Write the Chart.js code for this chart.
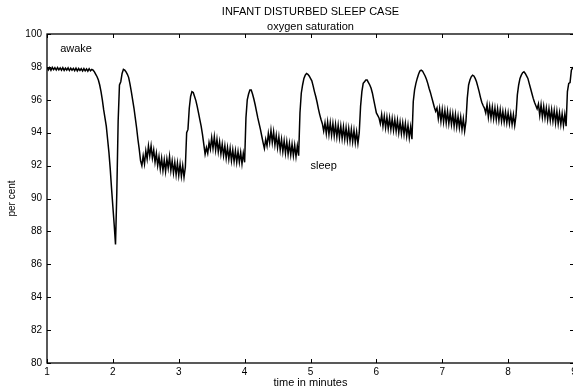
<!DOCTYPE html>
<html lang="en">
<head>
<meta charset="UTF-8">
<title>Infant disturbed sleep case</title>
<script src="https://cdn.jsdelivr.net/npm/chart.js"></script>
<style>
  html, body { margin: 0; padding: 0; background: #fff; overflow: hidden; }
</style>
</head>
<body>
<canvas id="sat" width="600" height="390"></canvas>
<script>
// oxygen saturation (per cent), one reading every 0.02 min from minute 1 to minute 9
const startMin = 1;
const stepMin = 0.02;
const saturation = [
  97.98, 97.82, 97.96, 97.80, 97.97, 97.83, 97.95, 97.81, 97.96, 97.82,
  97.94, 97.80, 97.95, 97.79, 97.93, 97.81, 97.94, 97.78, 97.92, 97.80,
  97.91, 97.77, 97.92, 97.76, 97.90, 97.78, 97.89, 97.75, 97.90, 97.76,
  97.88, 97.74, 97.89, 97.76, 97.84, 97.80, 97.70, 97.55, 97.40, 97.20,
  96.9, 96.5, 96.0, 95.4, 94.9, 94.4, 93.6, 92.8, 91.8, 90.6,
  89.5, 88.4, 87.2, 90.4, 94.7, 96.9, 97.1, 97.6, 97.85, 97.8,
  97.7, 97.55, 97.35, 96.95, 96.5, 96.0, 95.5, 94.9, 94.3, 93.6,
  93.0, 92.3, 92.0, 92.6, 92.1, 92.9, 92.4, 93.2, 92.6, 93.2,
  92.45, 92.95, 92.2, 92.75, 92.0, 92.55, 91.8, 92.45, 91.7, 92.35,
  91.65, 92.4, 91.85, 92.55, 91.7, 92.3, 91.55, 92.2, 91.45, 92.15,
  91.4, 92.1, 91.35, 92.0, 91.3, 91.9, 94.0, 94.2, 95.5, 96.2,
  96.5, 96.45, 96.2, 95.95, 95.6, 95.2, 94.8, 94.4, 93.9, 93.3,
  92.7, 93.1, 92.75, 93.4, 93.0, 93.7, 93.05, 93.75, 92.95, 93.6,
  92.85, 93.45, 92.7, 93.3, 92.6, 93.2, 92.45, 93.1, 92.4, 93.05,
  92.3, 92.95, 92.25, 92.9, 92.2, 92.85, 92.2, 92.8, 92.1, 92.75,
  92.2, 94.9, 96.0, 96.35, 96.6, 96.6, 96.35, 96.05, 95.7, 95.3,
  94.9, 94.55, 94.2, 93.8, 93.4, 93.05, 93.6, 93.2, 93.95, 93.4,
  94.15, 93.4, 94.05, 93.25, 93.85, 93.1, 93.75, 92.95, 93.6, 92.85,
  93.5, 92.75, 93.45, 92.7, 93.35, 92.65, 93.3, 92.6, 93.25, 92.55,
  93.2, 92.6, 95.2, 96.4, 96.9, 97.3, 97.5, 97.6, 97.55, 97.45,
  97.3, 97.15, 96.85, 96.5, 96.2, 95.85, 95.45, 95.1, 94.8, 94.55,
  94.1, 94.6, 93.95, 94.65, 93.9, 94.6, 93.85, 94.55, 93.8, 94.5,
  93.75, 94.45, 93.7, 94.4, 93.65, 94.35, 93.6, 94.3, 93.55, 94.25,
  93.5, 94.2, 93.45, 94.15, 93.4, 94.05, 93.35, 94.0, 95.6, 96.5,
  97.0, 97.1, 97.2, 97.2, 97.05, 96.9, 96.7, 96.4, 96.0, 95.6,
  95.2, 95.05, 94.9, 94.55, 95.1, 94.4, 95.0, 94.3, 94.95, 94.25,
  94.9, 94.2, 94.85, 94.15, 94.8, 94.1, 94.75, 94.0, 94.65, 93.95,
  94.6, 93.9, 94.55, 93.8, 94.45, 93.7, 94.35, 93.6, 95.9, 96.6,
  97.0, 97.3, 97.55, 97.75, 97.8, 97.75, 97.6, 97.45, 97.25, 97.0,
  96.7, 96.45, 96.15, 95.85, 95.55, 95.3, 95.5, 94.85, 95.45, 94.7,
  95.4, 94.65, 95.35, 94.6, 95.3, 94.55, 95.2, 94.5, 95.15, 94.4,
  95.1, 94.35, 95.0, 94.3, 94.95, 94.2, 94.85, 94.1, 94.7, 96.1,
  96.9, 97.2, 97.4, 97.5, 97.45, 97.3, 97.1, 96.8, 96.5, 96.15,
  95.85, 95.65, 95.5, 95.2, 95.7, 94.95, 95.6, 94.9, 95.55, 94.85,
  95.5, 94.8, 95.45, 94.75, 95.4, 94.7, 95.3, 94.65, 95.25, 94.6,
  95.2, 94.55, 95.15, 94.5, 95.1, 94.45, 95.05, 96.3, 96.9, 97.3,
  97.5, 97.65, 97.7, 97.6, 97.45, 97.3, 97.0, 96.7, 96.4, 96.1,
  95.85, 95.65, 95.45, 95.75, 95.05, 95.7, 94.95, 95.6, 94.9, 95.5,
  94.8, 95.45, 94.75, 95.4, 94.7, 95.35, 94.6, 95.3, 94.55, 95.2,
  94.5, 95.15, 94.45, 95.1, 94.4, 96.5, 97.0, 97.05, 97.8, 97.95,
  98.0
];

const xTicks = [1, 2, 3, 4, 5, 6, 7, 8, 9];
const yTicks = [80, 82, 84, 86, 88, 90, 92, 94, 96, 98, 100];

// text notes placed in data coordinates
const noteText = ['awake', 'sleep'];
const noteX = [1.2, 5.0];
const noteY = [99.1, 92.0];

const points = saturation.map((v, i) => ({ x: startMin + i * stepMin, y: v }));

Chart.defaults.font.family = '"Liberation Sans", Arial, Helvetica, sans-serif';
Chart.defaults.color = '#000';

// box round the axes, inward tick marks, titles and notes
const framePlugin = {
    id: 'frame',
    afterDraw(chart) {
        const ctx = chart.ctx;
        const a = chart.chartArea;
        const xs = chart.scales.x;
        const ys = chart.scales.y;
        const tick = 4;

        ctx.save();
        ctx.strokeStyle = '#000';
        ctx.lineWidth = 1.3;
        ctx.strokeRect(a.left, a.top, a.right - a.left, a.bottom - a.top);

        ctx.lineWidth = 1;
        ctx.beginPath();
        xTicks.forEach(v => {
            const px = Math.round(xs.getPixelForValue(v)) + 0.5;
            ctx.moveTo(px, a.bottom); ctx.lineTo(px, a.bottom - tick);
            ctx.moveTo(px, a.top); ctx.lineTo(px, a.top + tick);
        });
        yTicks.forEach(v => {
            const py = Math.round(ys.getPixelForValue(v)) + 0.5;
            ctx.moveTo(a.left, py); ctx.lineTo(a.left + tick, py);
            ctx.moveTo(a.right, py); ctx.lineTo(a.right - tick, py);
        });
        ctx.stroke();

        ctx.fillStyle = '#000';
        ctx.textBaseline = 'middle';
        ctx.textAlign = 'center';
        ctx.font = '11px "Liberation Sans", Arial, sans-serif';
        const cx = (a.left + a.right) / 2;
        ctx.fillText('INFANT DISTURBED SLEEP CASE', cx, a.top - 22);
        ctx.fillText('oxygen saturation', cx, a.top - 7);

        ctx.textAlign = 'left';
        noteText.forEach((t, i) => {
            ctx.fillText(t, xs.getPixelForValue(noteX[i]), ys.getPixelForValue(noteY[i]));
        });
        ctx.restore();
    }
};

new Chart(document.getElementById('sat'), {
    type: 'line',
    data: {
        datasets: [{
            data: points,
            borderColor: '#000',
            borderWidth: 1.5,
            pointRadius: 0,
            tension: 0,
            fill: false
        }]
    },
    options: {
        responsive: false,
        animation: false,
        parsing: false,
        layout: { padding: { top: 34, right: 26, left: 0, bottom: 0 } },
        plugins: {
            legend: { display: false },
            tooltip: { enabled: false },
            title: { display: false }
        },
        scales: {
            x: {
                type: 'linear',
                min: 1,
                max: 9,
                afterBuildTicks: s => { s.ticks = xTicks.map(v => ({ value: v })); },
                afterFit: s => { s.height = 27; },
                grid: { display: false, drawTicks: false },
                border: { display: false },
                ticks: { font: { size: 10 }, padding: 3, maxRotation: 0, autoSkip: false },
                title: { display: true, text: 'time in minutes', font: { size: 11 }, padding: 0 }
            },
            y: {
                type: 'linear',
                min: 80,
                max: 100,
                afterBuildTicks: s => { s.ticks = yTicks.map(v => ({ value: v })); },
                afterFit: s => { s.width = 47; },
                grid: { display: false, drawTicks: false },
                border: { display: false },
                ticks: { font: { size: 10 }, padding: 5, autoSkip: false },
                title: { display: true, text: 'per cent', font: { size: 10 }, padding: { top: 6, bottom: 0 } }
            }
        }
    },
    plugins: [framePlugin]
});
</script>
</body>
</html>
